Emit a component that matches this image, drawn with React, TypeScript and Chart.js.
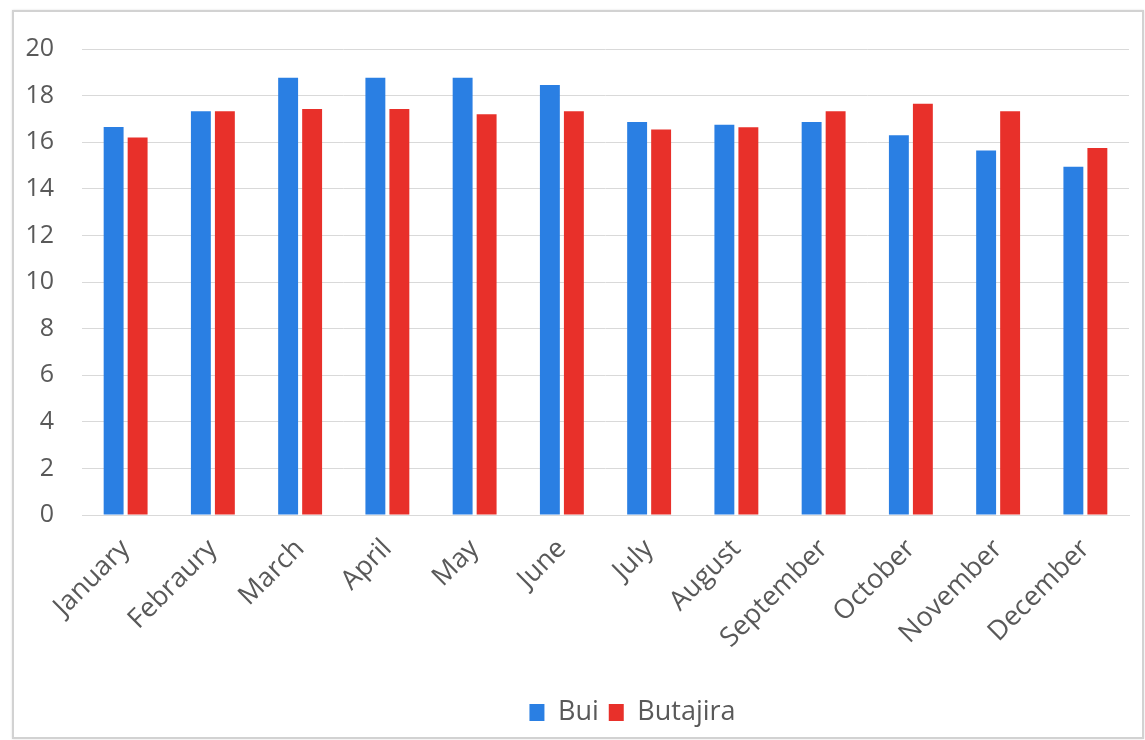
import React, { useEffect, useRef } from "react";
import { Chart, registerables } from "chart.js";

Chart.register(...registerables);

// Monthly values for the two stations
const months = [
  "January", "Febraury", "March", "April", "May", "June",
  "July", "August", "September", "October", "November", "December",
];
const buiValues = [16.65, 17.33, 18.77, 18.77, 18.77, 18.45, 16.87, 16.75, 16.87, 16.3, 15.64, 14.95];
const butajiraValues = [16.2, 17.33, 17.42, 17.42, 17.2, 17.33, 16.54, 16.64, 17.33, 17.65, 17.33, 15.75];
const seriesNames = ["Bui", "Butajira"];

const FONT = "'Open Sans', 'Liberation Sans', sans-serif";
const TEXT = "#595959";
const GRID = "#d9d9d9";

// Nudges the bottom legend to the right of its default centred spot
const legendShift = {
  id: "legendShift",
  afterLayout(chart: any) {
    const lg = chart.legend;
    if (!lg) return;
    lg.left += 68;
    lg.right += 68;
  },
};

export default function App() {
  const ref = useRef<HTMLCanvasElement | null>(null);

  useEffect(() => {
    if (!ref.current) return;
    const chart = new Chart(ref.current, {
      type: "bar",
      data: {
        labels: months,
        datasets: [
          {
            label: seriesNames[0],
            data: buiValues,
            backgroundColor: "#2A7FE3",
            categoryPercentage: 0.55,
            barPercentage: 0.83,
          },
          {
            label: seriesNames[1],
            data: butajiraValues,
            backgroundColor: "#E8302A",
            categoryPercentage: 0.55,
            barPercentage: 0.83,
          },
        ],
      },
      plugins: [legendShift],
      options: {
        responsive: false,
        animation: false,
        layout: { padding: { top: 49, left: 0, right: 16, bottom: 4 } },
        plugins: {
          tooltip: { enabled: false },
          legend: {
            position: "bottom",
            labels: {
              boxWidth: 15,
              boxHeight: 17,
              padding: 10,
              color: TEXT,
              font: { family: FONT, size: 27 },
            },
          },
        },
        scales: {
          x: {
            grid: { display: false },
            border: { color: GRID, width: 1 },
            ticks: {
              minRotation: 45,
              maxRotation: 45,
              color: TEXT,
              padding: 10,
              font: { family: FONT, size: 27 },
            },
            afterFit(scale: any) {
              scale.height = 174;
            },
          },
          y: {
            min: 0,
            max: 20,
            grid: { color: GRID, drawTicks: false },
            border: { display: false },
            ticks: {
              stepSize: 2,
              color: TEXT,
              padding: 28,
              font: { family: FONT, size: 25 },
            },
            afterFit(scale: any) {
              scale.width = 82;
            },
          },
        },
      },
    });
    return () => chart.destroy();
  }, []);

  return (
    <div style={{ position: "fixed", left: 0, top: 0, width: 1145, height: 740, background: "#fff" }}>
      <div
        style={{
          position: "absolute",
          left: 12,
          top: 10,
          width: 1128,
          height: 725,
          border: "2px solid #d2d2d2",
          boxShadow: "0 0 2px rgba(0,0,0,0.12)",
        }}
      />
      <canvas
        ref={ref}
        width={1145}
        height={740}
        style={{ position: "absolute", left: 0, top: 0 }}
      />
    </div>
  );
}
